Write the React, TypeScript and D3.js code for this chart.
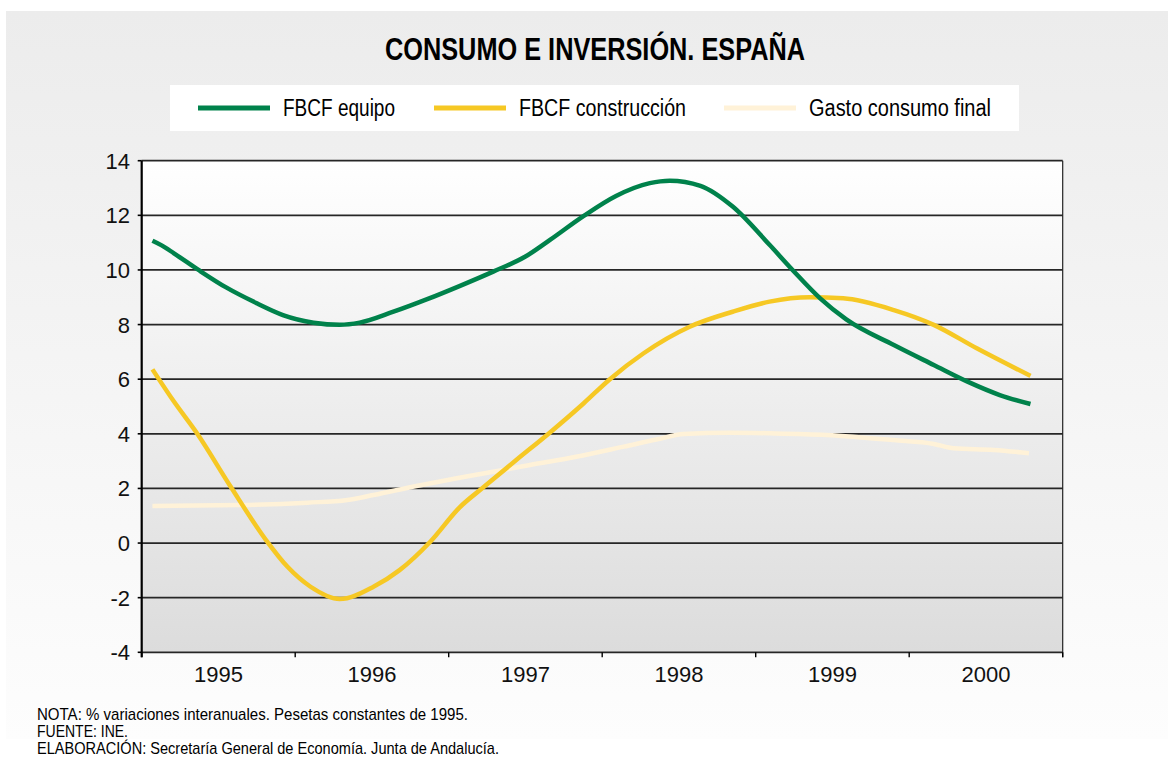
import React, { useEffect, useRef } from 'react';
import * as d3 from 'd3';

// Etiquetas de los ejes
const years = [1995, 1996, 1997, 1998, 1999, 2000];
const yTicks = [-4, -2, 0, 2, 4, 6, 8, 10, 12, 14];

// FBCF equipo (% variación interanual), tiempo en años fraccionarios
const equipoT = [1995.07, 1995.13, 1995.21, 1995.37, 1995.55, 1995.75, 1995.92, 1996.12, 1996.29, 1996.42, 1996.64, 1996.86, 1997.07, 1997.29, 1997.5, 1997.66, 1997.88, 1998.09, 1998.31, 1998.44, 1998.64, 1998.85, 1999.09, 1999.24, 1999.42, 1999.59, 1999.9, 2000.16, 2000.38, 2000.59, 2000.79];
const equipoV = [11.07, 10.9, 10.61, 10.0, 9.36, 8.78, 8.35, 8.07, 7.99, 8.07, 8.47, 8.93, 9.41, 9.94, 10.49, 11.1, 11.98, 12.71, 13.18, 13.27, 13.08, 12.32, 10.92, 10.0, 8.96, 8.19, 7.25, 6.52, 5.91, 5.42, 5.09];

// FBCF construcción
const construccionT = [1995.07, 1995.21, 1995.36, 1995.58, 1995.81, 1995.95, 1996.1, 1996.29, 1996.51, 1996.68, 1996.88, 1997.07, 1997.23, 1997.44, 1997.66, 1997.88, 1998.05, 1998.27, 1998.57, 1998.85, 1999.09, 1999.35, 1999.57, 1999.9, 2000.16, 2000.44, 2000.79];
const construccionV = [6.36, 5.18, 4.02, 2.06, 0.11, -0.87, -1.6, -2.05, -1.6, -0.99, 0.05, 1.3, 2.06, 3.04, 4.05, 5.12, 6.0, 6.95, 7.92, 8.47, 8.84, 9.0, 8.96, 8.53, 7.99, 7.13, 6.12];

// Gasto consumo final
const gastoT = [1995.07, 1995.64, 1996.08, 1996.34, 1996.51, 1996.79, 1997.07, 1997.29, 1997.53, 1997.83, 1998.14, 1998.36, 1998.53, 1998.83, 1999.09, 1999.46, 1999.9, 2000.16, 2000.29, 2000.55, 2000.78];
const gastoV = [1.36, 1.39, 1.48, 1.58, 1.76, 2.09, 2.39, 2.61, 2.86, 3.16, 3.53, 3.8, 3.99, 4.04, 4.02, 3.96, 3.77, 3.63, 3.47, 3.41, 3.29];

const seriesNames = ['FBCF equipo', 'FBCF construcción', 'Gasto consumo final'];
const seriesColors = ['#00824b', '#f6c824', '#fff2d8'];

const notes = [
  'NOTA: % variaciones interanuales. Pesetas constantes de 1995.',
  'FUENTE: INE.',
  'ELABORACIÓN: Secretaría General de Economía. Junta de Andalucía.',
];

const sans = "'Liberation Sans', Arial, sans-serif";

export default function App() {
  const ref = useRef<SVGSVGElement>(null);

  useEffect(() => {
    if (!ref.current) return;
    const svg = d3.select(ref.current);
    svg.selectAll('*').remove();

    const W = 1168;
    const H = 760;
    const plot = { left: 141.7, right: 1062.7, top: 160.7, bottom: 652.3 };

    const x = d3.scaleLinear().domain([1995, 2001]).range([plot.left, plot.right]);
    const y = d3.scaleLinear().domain([-4, 14]).range([plot.bottom, plot.top]);

    const defs = svg.append('defs');
    const panelGrad = defs.append('linearGradient')
      .attr('id', 'panelGrad').attr('x1', 0).attr('y1', 0).attr('x2', 0).attr('y2', 1);
    panelGrad.append('stop').attr('offset', '0%').attr('stop-color', '#ececec');
    panelGrad.append('stop').attr('offset', '100%').attr('stop-color', '#fdfdfd');

    const plotGrad = defs.append('linearGradient')
      .attr('id', 'plotGrad').attr('x1', 0).attr('y1', 0).attr('x2', 0).attr('y2', 1);
    plotGrad.append('stop').attr('offset', '0%').attr('stop-color', '#ffffff');
    plotGrad.append('stop').attr('offset', '100%').attr('stop-color', '#dcdcdc');

    // fondo
    svg.append('rect').attr('width', W).attr('height', H).attr('fill', '#ffffff');
    svg.append('rect')
      .attr('x', 6).attr('y', 11).attr('width', W - 6).attr('height', 728)
      .attr('fill', 'url(#panelGrad)');

    // título (letra estrecha: se comprime con textLength)
    svg.append('text')
      .attr('x', 385).attr('y', 60)
      .attr('font-family', sans)
      .attr('font-weight', 'bold')
      .attr('font-size', '32px')
      .attr('textLength', 420)
      .attr('lengthAdjust', 'spacingAndGlyphs')
      .attr('fill', '#000')
      .text('CONSUMO E INVERSIÓN. ESPAÑA');

    // leyenda
    svg.append('rect')
      .attr('x', 170).attr('y', 85).attr('width', 849).attr('height', 46)
      .attr('fill', '#ffffff');
    const legendX = [198, 434, 724];
    const legendW = [112, 167, 182];
    const legend = svg.append('g');
    seriesNames.forEach((name, i) => {
      legend.append('line')
        .attr('x1', legendX[i]).attr('x2', legendX[i] + 72)
        .attr('y1', 108).attr('y2', 108)
        .attr('stroke', seriesColors[i])
        .attr('stroke-width', 5);
      legend.append('text')
        .attr('x', legendX[i] + 85).attr('y', 116)
        .attr('font-family', sans)
        .attr('font-size', '23px')
        .attr('textLength', legendW[i])
        .attr('lengthAdjust', 'spacingAndGlyphs')
        .attr('fill', '#000')
        .text(name);
    });

    // área del gráfico
    svg.append('rect')
      .attr('x', plot.left).attr('y', plot.top)
      .attr('width', plot.right - plot.left).attr('height', plot.bottom - plot.top)
      .attr('fill', 'url(#plotGrad)');

    // rejilla
    svg.append('g')
      .selectAll('line')
      .data(yTicks)
      .enter()
      .append('line')
        .attr('x1', plot.left).attr('x2', plot.right)
        .attr('y1', d => y(d)).attr('y2', d => y(d))
        .attr('stroke', '#262626')
        .attr('stroke-width', 1.8);

    // borde derecho
    svg.append('line')
      .attr('x1', plot.right).attr('x2', plot.right)
      .attr('y1', plot.top).attr('y2', plot.bottom + 5)
      .attr('stroke', '#222').attr('stroke-width', 1.2);

    // eje Y
    svg.append('line')
      .attr('x1', plot.left).attr('x2', plot.left)
      .attr('y1', plot.top).attr('y2', plot.bottom + 5)
      .attr('stroke', '#000').attr('stroke-width', 2.2);
    const yAxis = svg.append('g');
    yAxis.selectAll('.ytick')
      .data(yTicks)
      .enter()
      .append('line')
        .attr('x1', plot.left - 4).attr('x2', plot.left)
        .attr('y1', d => y(d)).attr('y2', d => y(d))
        .attr('stroke', '#000').attr('stroke-width', 1.6);
    yAxis.selectAll('.ylabel')
      .data(yTicks)
      .enter()
      .append('text')
        .attr('x', 130)
        .attr('y', d => y(d) + 8)
        .attr('text-anchor', 'end')
        .attr('font-family', sans)
        .attr('font-size', '22px')
        .attr('fill', '#111')
        .text(d => `${d}`);

    // eje X
    const xAxis = svg.append('g');
    xAxis.selectAll('.xtick')
      .data(d3.range(1995, 2002))
      .enter()
      .append('line')
        .attr('x1', d => x(d)).attr('x2', d => x(d))
        .attr('y1', plot.bottom).attr('y2', plot.bottom + 5)
        .attr('stroke', '#000').attr('stroke-width', 1.4);
    xAxis.selectAll('.xlabel')
      .data(years)
      .enter()
      .append('text')
        .attr('x', d => x(d + 0.5))
        .attr('y', 682)
        .attr('text-anchor', 'middle')
        .attr('font-family', sans)
        .attr('font-size', '22px')
        .attr('fill', '#111')
        .text(d => `${d}`);

    // series
    const seriesT = [equipoT, construccionT, gastoT];
    const seriesV = [equipoV, construccionV, gastoV];
    const line = d3.line<[number, number]>()
      .x(d => x(d[0]))
      .y(d => y(d[1]))
      .curve(d3.curveMonotoneX);

    const lines = svg.append('g');
    [2, 1, 0].forEach(i => {
      const pts = seriesT[i].map((t, k) => [t, seriesV[i][k]] as [number, number]);
      lines.append('path')
        .attr('d', line(pts))
        .attr('fill', 'none')
        .attr('stroke', seriesColors[i])
        .attr('stroke-width', 4.5)
        .attr('stroke-linejoin', 'round');
    });

    // notas
    const noteW = [431, 91, 462];
    svg.append('g')
      .selectAll('text')
      .data(notes)
      .enter()
      .append('text')
        .attr('x', 37)
        .attr('y', (d, i) => 720 + i * 17)
        .attr('font-family', sans)
        .attr('font-size', '17px')
        .attr('textLength', (d, i) => noteW[i])
        .attr('lengthAdjust', 'spacingAndGlyphs')
        .attr('fill', '#000')
        .text(d => d);
  }, []);

  return (
    <svg
      ref={ref}
      width={1168}
      height={760}
      style={{ position: 'absolute', left: 0, top: 0 }}
    />
  );
}
